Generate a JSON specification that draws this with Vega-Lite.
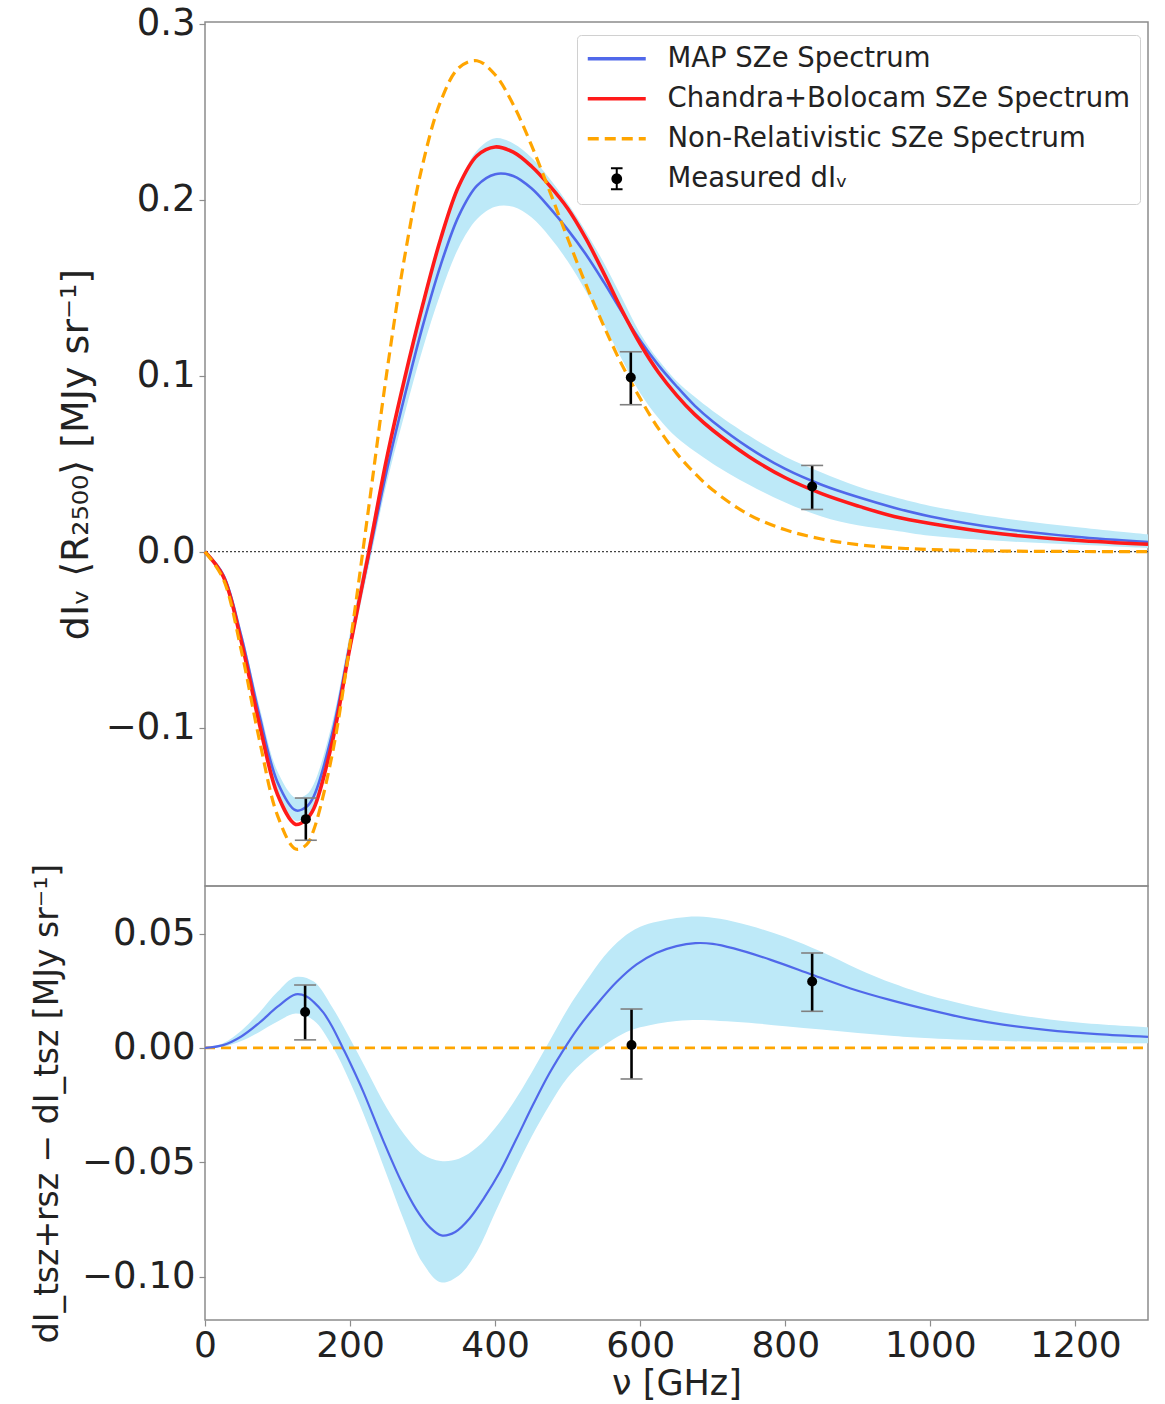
{
  "$schema": "https://vega.github.io/schema/vega-lite/v6.json",
  "background": "white",
  "padding": {"left": 30, "top": 4, "right": 17, "bottom": 0},
  "config": {
    "font": "DejaVu Sans",
    "view": {"stroke": "#8c8c8c", "strokeWidth": 1.5},
    "axis": {
      "labelFont": "DejaVu Sans", "titleFont": "DejaVu Sans",
      "labelFontSize": 37, "titleFontSize": 34, "titleFontWeight": "normal",
      "labelColor": "#222", "titleColor": "#222",
      "domain": false, "grid": false,
      "tickColor": "#8c8c8c", "tickSize": 6, "tickWidth": 1.2,
      "labelPadding": 4, "labelFlush": false, "labelOverlap": false
    }
  },
  "datasets": {
    "curves_top": [
      {"nu": 0, "v": 0, "series": "MAP SZe Spectrum"},
      {"nu": 25, "v": -0.013, "series": "MAP SZe Spectrum"},
      {"nu": 50, "v": -0.048, "series": "MAP SZe Spectrum"},
      {"nu": 75, "v": -0.093, "series": "MAP SZe Spectrum"},
      {"nu": 100, "v": -0.131, "series": "MAP SZe Spectrum"},
      {"nu": 125, "v": -0.147, "series": "MAP SZe Spectrum"},
      {"nu": 140, "v": -0.145, "series": "MAP SZe Spectrum"},
      {"nu": 150, "v": -0.139, "series": "MAP SZe Spectrum"},
      {"nu": 175, "v": -0.104, "series": "MAP SZe Spectrum"},
      {"nu": 200, "v": -0.052, "series": "MAP SZe Spectrum"},
      {"nu": 225, "v": -0.004, "series": "MAP SZe Spectrum"},
      {"nu": 250, "v": 0.045, "series": "MAP SZe Spectrum"},
      {"nu": 275, "v": 0.088, "series": "MAP SZe Spectrum"},
      {"nu": 300, "v": 0.128, "series": "MAP SZe Spectrum"},
      {"nu": 325, "v": 0.163, "series": "MAP SZe Spectrum"},
      {"nu": 350, "v": 0.191, "series": "MAP SZe Spectrum"},
      {"nu": 375, "v": 0.208, "series": "MAP SZe Spectrum"},
      {"nu": 400, "v": 0.2145, "series": "MAP SZe Spectrum"},
      {"nu": 425, "v": 0.2135, "series": "MAP SZe Spectrum"},
      {"nu": 450, "v": 0.2065, "series": "MAP SZe Spectrum"},
      {"nu": 475, "v": 0.1955, "series": "MAP SZe Spectrum"},
      {"nu": 500, "v": 0.183, "series": "MAP SZe Spectrum"},
      {"nu": 525, "v": 0.169, "series": "MAP SZe Spectrum"},
      {"nu": 550, "v": 0.153, "series": "MAP SZe Spectrum"},
      {"nu": 575, "v": 0.136, "series": "MAP SZe Spectrum"},
      {"nu": 600, "v": 0.120, "series": "MAP SZe Spectrum"},
      {"nu": 625, "v": 0.106, "series": "MAP SZe Spectrum"},
      {"nu": 650, "v": 0.094, "series": "MAP SZe Spectrum"},
      {"nu": 675, "v": 0.083, "series": "MAP SZe Spectrum"},
      {"nu": 700, "v": 0.074, "series": "MAP SZe Spectrum"},
      {"nu": 750, "v": 0.059, "series": "MAP SZe Spectrum"},
      {"nu": 800, "v": 0.047, "series": "MAP SZe Spectrum"},
      {"nu": 850, "v": 0.038, "series": "MAP SZe Spectrum"},
      {"nu": 900, "v": 0.031, "series": "MAP SZe Spectrum"},
      {"nu": 950, "v": 0.025, "series": "MAP SZe Spectrum"},
      {"nu": 1000, "v": 0.020, "series": "MAP SZe Spectrum"},
      {"nu": 1100, "v": 0.013, "series": "MAP SZe Spectrum"},
      {"nu": 1200, "v": 0.0085, "series": "MAP SZe Spectrum"},
      {"nu": 1300, "v": 0.0055, "series": "MAP SZe Spectrum"},
      {"nu": 0, "v": 0, "series": "Chandra+Bolocam SZe Spectrum"},
      {"nu": 25, "v": -0.014, "series": "Chandra+Bolocam SZe Spectrum"},
      {"nu": 50, "v": -0.051, "series": "Chandra+Bolocam SZe Spectrum"},
      {"nu": 75, "v": -0.098, "series": "Chandra+Bolocam SZe Spectrum"},
      {"nu": 100, "v": -0.138, "series": "Chandra+Bolocam SZe Spectrum"},
      {"nu": 125, "v": -0.155, "series": "Chandra+Bolocam SZe Spectrum"},
      {"nu": 140, "v": -0.152, "series": "Chandra+Bolocam SZe Spectrum"},
      {"nu": 150, "v": -0.146, "series": "Chandra+Bolocam SZe Spectrum"},
      {"nu": 175, "v": -0.109, "series": "Chandra+Bolocam SZe Spectrum"},
      {"nu": 200, "v": -0.054, "series": "Chandra+Bolocam SZe Spectrum"},
      {"nu": 225, "v": -0.002, "series": "Chandra+Bolocam SZe Spectrum"},
      {"nu": 250, "v": 0.052, "series": "Chandra+Bolocam SZe Spectrum"},
      {"nu": 275, "v": 0.098, "series": "Chandra+Bolocam SZe Spectrum"},
      {"nu": 300, "v": 0.140, "series": "Chandra+Bolocam SZe Spectrum"},
      {"nu": 325, "v": 0.178, "series": "Chandra+Bolocam SZe Spectrum"},
      {"nu": 350, "v": 0.208, "series": "Chandra+Bolocam SZe Spectrum"},
      {"nu": 375, "v": 0.225, "series": "Chandra+Bolocam SZe Spectrum"},
      {"nu": 400, "v": 0.230, "series": "Chandra+Bolocam SZe Spectrum"},
      {"nu": 425, "v": 0.227, "series": "Chandra+Bolocam SZe Spectrum"},
      {"nu": 450, "v": 0.219, "series": "Chandra+Bolocam SZe Spectrum"},
      {"nu": 475, "v": 0.208, "series": "Chandra+Bolocam SZe Spectrum"},
      {"nu": 500, "v": 0.195, "series": "Chandra+Bolocam SZe Spectrum"},
      {"nu": 525, "v": 0.178, "series": "Chandra+Bolocam SZe Spectrum"},
      {"nu": 550, "v": 0.158, "series": "Chandra+Bolocam SZe Spectrum"},
      {"nu": 575, "v": 0.137, "series": "Chandra+Bolocam SZe Spectrum"},
      {"nu": 600, "v": 0.118, "series": "Chandra+Bolocam SZe Spectrum"},
      {"nu": 625, "v": 0.102, "series": "Chandra+Bolocam SZe Spectrum"},
      {"nu": 650, "v": 0.089, "series": "Chandra+Bolocam SZe Spectrum"},
      {"nu": 675, "v": 0.078, "series": "Chandra+Bolocam SZe Spectrum"},
      {"nu": 700, "v": 0.069, "series": "Chandra+Bolocam SZe Spectrum"},
      {"nu": 750, "v": 0.054, "series": "Chandra+Bolocam SZe Spectrum"},
      {"nu": 800, "v": 0.042, "series": "Chandra+Bolocam SZe Spectrum"},
      {"nu": 850, "v": 0.033, "series": "Chandra+Bolocam SZe Spectrum"},
      {"nu": 900, "v": 0.026, "series": "Chandra+Bolocam SZe Spectrum"},
      {"nu": 950, "v": 0.020, "series": "Chandra+Bolocam SZe Spectrum"},
      {"nu": 1000, "v": 0.016, "series": "Chandra+Bolocam SZe Spectrum"},
      {"nu": 1100, "v": 0.010, "series": "Chandra+Bolocam SZe Spectrum"},
      {"nu": 1200, "v": 0.0065, "series": "Chandra+Bolocam SZe Spectrum"},
      {"nu": 1300, "v": 0.0042, "series": "Chandra+Bolocam SZe Spectrum"},
      {"nu": 0, "v": 0, "series": "Non-Relativistic SZe Spectrum"},
      {"nu": 25, "v": -0.0154, "series": "Non-Relativistic SZe Spectrum"},
      {"nu": 50, "v": -0.0561, "series": "Non-Relativistic SZe Spectrum"},
      {"nu": 75, "v": -0.107, "series": "Non-Relativistic SZe Spectrum"},
      {"nu": 100, "v": -0.150, "series": "Non-Relativistic SZe Spectrum"},
      {"nu": 125, "v": -0.169, "series": "Non-Relativistic SZe Spectrum"},
      {"nu": 140, "v": -0.1665, "series": "Non-Relativistic SZe Spectrum"},
      {"nu": 150, "v": -0.158, "series": "Non-Relativistic SZe Spectrum"},
      {"nu": 175, "v": -0.116, "series": "Non-Relativistic SZe Spectrum"},
      {"nu": 200, "v": -0.052, "series": "Non-Relativistic SZe Spectrum"},
      {"nu": 225, "v": 0.023, "series": "Non-Relativistic SZe Spectrum"},
      {"nu": 250, "v": 0.100, "series": "Non-Relativistic SZe Spectrum"},
      {"nu": 275, "v": 0.167, "series": "Non-Relativistic SZe Spectrum"},
      {"nu": 300, "v": 0.220, "series": "Non-Relativistic SZe Spectrum"},
      {"nu": 325, "v": 0.256, "series": "Non-Relativistic SZe Spectrum"},
      {"nu": 350, "v": 0.275, "series": "Non-Relativistic SZe Spectrum"},
      {"nu": 375, "v": 0.279, "series": "Non-Relativistic SZe Spectrum"},
      {"nu": 400, "v": 0.271, "series": "Non-Relativistic SZe Spectrum"},
      {"nu": 425, "v": 0.254, "series": "Non-Relativistic SZe Spectrum"},
      {"nu": 450, "v": 0.231, "series": "Non-Relativistic SZe Spectrum"},
      {"nu": 475, "v": 0.205, "series": "Non-Relativistic SZe Spectrum"},
      {"nu": 500, "v": 0.178, "series": "Non-Relativistic SZe Spectrum"},
      {"nu": 525, "v": 0.152, "series": "Non-Relativistic SZe Spectrum"},
      {"nu": 550, "v": 0.128, "series": "Non-Relativistic SZe Spectrum"},
      {"nu": 575, "v": 0.106, "series": "Non-Relativistic SZe Spectrum"},
      {"nu": 600, "v": 0.087, "series": "Non-Relativistic SZe Spectrum"},
      {"nu": 625, "v": 0.070, "series": "Non-Relativistic SZe Spectrum"},
      {"nu": 650, "v": 0.056, "series": "Non-Relativistic SZe Spectrum"},
      {"nu": 675, "v": 0.0446, "series": "Non-Relativistic SZe Spectrum"},
      {"nu": 700, "v": 0.035, "series": "Non-Relativistic SZe Spectrum"},
      {"nu": 750, "v": 0.021, "series": "Non-Relativistic SZe Spectrum"},
      {"nu": 800, "v": 0.0124, "series": "Non-Relativistic SZe Spectrum"},
      {"nu": 850, "v": 0.0072, "series": "Non-Relativistic SZe Spectrum"},
      {"nu": 900, "v": 0.004, "series": "Non-Relativistic SZe Spectrum"},
      {"nu": 950, "v": 0.0022, "series": "Non-Relativistic SZe Spectrum"},
      {"nu": 1000, "v": 0.0012, "series": "Non-Relativistic SZe Spectrum"},
      {"nu": 1100, "v": 0.00035, "series": "Non-Relativistic SZe Spectrum"},
      {"nu": 1200, "v": 0.0001, "series": "Non-Relativistic SZe Spectrum"},
      {"nu": 1300, "v": 0, "series": "Non-Relativistic SZe Spectrum"}
    ],
    "band_top": [
      {"nu": 0, "lo": 0, "hi": 0},
      {"nu": 25, "lo": -0.0145, "hi": -0.0115},
      {"nu": 50, "lo": -0.051, "hi": -0.045},
      {"nu": 75, "lo": -0.098, "hi": -0.088},
      {"nu": 100, "lo": -0.137, "hi": -0.125},
      {"nu": 125, "lo": -0.153, "hi": -0.140},
      {"nu": 140, "lo": -0.151, "hi": -0.138},
      {"nu": 150, "lo": -0.145, "hi": -0.132},
      {"nu": 175, "lo": -0.110, "hi": -0.098},
      {"nu": 200, "lo": -0.058, "hi": -0.046},
      {"nu": 225, "lo": -0.010, "hi": 0.004},
      {"nu": 250, "lo": 0.038, "hi": 0.055},
      {"nu": 275, "lo": 0.078, "hi": 0.100},
      {"nu": 300, "lo": 0.115, "hi": 0.143},
      {"nu": 325, "lo": 0.147, "hi": 0.180},
      {"nu": 350, "lo": 0.173, "hi": 0.209},
      {"nu": 375, "lo": 0.189, "hi": 0.228},
      {"nu": 400, "lo": 0.196, "hi": 0.235},
      {"nu": 425, "lo": 0.196, "hi": 0.232},
      {"nu": 450, "lo": 0.190, "hi": 0.224},
      {"nu": 475, "lo": 0.179, "hi": 0.212},
      {"nu": 500, "lo": 0.165, "hi": 0.198},
      {"nu": 525, "lo": 0.148, "hi": 0.182},
      {"nu": 550, "lo": 0.129, "hi": 0.164},
      {"nu": 575, "lo": 0.109, "hi": 0.144},
      {"nu": 600, "lo": 0.090, "hi": 0.124},
      {"nu": 625, "lo": 0.076, "hi": 0.109},
      {"nu": 650, "lo": 0.065, "hi": 0.097},
      {"nu": 675, "lo": 0.057, "hi": 0.088},
      {"nu": 700, "lo": 0.050, "hi": 0.080},
      {"nu": 750, "lo": 0.038, "hi": 0.066},
      {"nu": 800, "lo": 0.028, "hi": 0.054},
      {"nu": 850, "lo": 0.020, "hi": 0.045},
      {"nu": 900, "lo": 0.015, "hi": 0.037},
      {"nu": 950, "lo": 0.012, "hi": 0.031},
      {"nu": 1000, "lo": 0.009, "hi": 0.026},
      {"nu": 1100, "lo": 0.006, "hi": 0.019},
      {"nu": 1200, "lo": 0.004, "hi": 0.014},
      {"nu": 1300, "lo": 0.002, "hi": 0.0098}
    ],
    "meas_top": [
      {"nu": 139, "v": -0.152, "lo": -0.164, "hi": -0.140, "series": "Measured dIᵥ"},
      {"nu": 587, "v": 0.099, "lo": 0.0835, "hi": 0.1136, "series": "Measured dIᵥ"},
      {"nu": 837, "v": 0.037, "lo": 0.024, "hi": 0.049, "series": "Measured dIᵥ"}
    ],
    "zero_top": [{"v": 0}],
    "curve_bot": [
      {"nu": 0, "v": 0}, {"nu": 25, "v": 0.0012}, {"nu": 50, "v": 0.005}, {"nu": 75, "v": 0.011},
      {"nu": 100, "v": 0.018}, {"nu": 125, "v": 0.0234}, {"nu": 140, "v": 0.0225}, {"nu": 150, "v": 0.0200},
      {"nu": 163, "v": 0.0155}, {"nu": 175, "v": 0.0095}, {"nu": 190, "v": 0.0}, {"nu": 200, "v": -0.0065},
      {"nu": 218, "v": -0.019}, {"nu": 245, "v": -0.040}, {"nu": 270, "v": -0.058}, {"nu": 291, "v": -0.0705},
      {"nu": 310, "v": -0.0785}, {"nu": 326, "v": -0.082}, {"nu": 345, "v": -0.0805}, {"nu": 365, "v": -0.0745},
      {"nu": 385, "v": -0.0655}, {"nu": 406, "v": -0.0545}, {"nu": 429, "v": -0.040}, {"nu": 452, "v": -0.025},
      {"nu": 475, "v": -0.011}, {"nu": 500, "v": 0.002}, {"nu": 515, "v": 0.009}, {"nu": 540, "v": 0.019},
      {"nu": 568, "v": 0.029}, {"nu": 595, "v": 0.0365}, {"nu": 622, "v": 0.0415}, {"nu": 650, "v": 0.0445},
      {"nu": 676, "v": 0.0458}, {"nu": 700, "v": 0.0455}, {"nu": 729, "v": 0.0435}, {"nu": 780, "v": 0.0385},
      {"nu": 837, "v": 0.032}, {"nu": 890, "v": 0.026}, {"nu": 944, "v": 0.021}, {"nu": 1000, "v": 0.0165},
      {"nu": 1052, "v": 0.0128}, {"nu": 1100, "v": 0.0102}, {"nu": 1159, "v": 0.0079}, {"nu": 1230, "v": 0.006},
      {"nu": 1300, "v": 0.0048}
    ],
    "band_bot": [
      {"nu": 0, "lo": 0, "hi": 0},
      {"nu": 25, "lo": 0.0005, "hi": 0.002},
      {"nu": 50, "lo": 0.003, "hi": 0.0075},
      {"nu": 75, "lo": 0.007, "hi": 0.0155},
      {"nu": 100, "lo": 0.0115, "hi": 0.0245},
      {"nu": 125, "lo": 0.015, "hi": 0.031},
      {"nu": 150, "lo": 0.012, "hi": 0.029},
      {"nu": 175, "lo": 0.001, "hi": 0.018},
      {"nu": 200, "lo": -0.015, "hi": 0.004},
      {"nu": 225, "lo": -0.034, "hi": -0.011},
      {"nu": 250, "lo": -0.055, "hi": -0.026},
      {"nu": 275, "lo": -0.076, "hi": -0.038},
      {"nu": 300, "lo": -0.094, "hi": -0.0465},
      {"nu": 325, "lo": -0.1025, "hi": -0.0495},
      {"nu": 350, "lo": -0.0995, "hi": -0.0485},
      {"nu": 375, "lo": -0.089, "hi": -0.0435},
      {"nu": 400, "lo": -0.072, "hi": -0.035},
      {"nu": 425, "lo": -0.055, "hi": -0.024},
      {"nu": 450, "lo": -0.039, "hi": -0.011},
      {"nu": 475, "lo": -0.025, "hi": 0.003},
      {"nu": 500, "lo": -0.013, "hi": 0.017},
      {"nu": 525, "lo": -0.005, "hi": 0.029},
      {"nu": 550, "lo": 0.001, "hi": 0.040},
      {"nu": 575, "lo": 0.006, "hi": 0.048},
      {"nu": 600, "lo": 0.009, "hi": 0.053},
      {"nu": 650, "lo": 0.0118, "hi": 0.0568},
      {"nu": 680, "lo": 0.0122, "hi": 0.0575},
      {"nu": 710, "lo": 0.0118, "hi": 0.0565},
      {"nu": 750, "lo": 0.011, "hi": 0.0535},
      {"nu": 800, "lo": 0.0095, "hi": 0.0485},
      {"nu": 850, "lo": 0.008, "hi": 0.042},
      {"nu": 900, "lo": 0.0065, "hi": 0.0345},
      {"nu": 950, "lo": 0.0052, "hi": 0.028},
      {"nu": 1000, "lo": 0.0042, "hi": 0.0228},
      {"nu": 1100, "lo": 0.003, "hi": 0.0155},
      {"nu": 1200, "lo": 0.0024, "hi": 0.0112},
      {"nu": 1300, "lo": 0.002, "hi": 0.009}
    ],
    "meas_bot": [
      {"nu": 138, "v": 0.0157, "lo": 0.0035, "hi": 0.0275},
      {"nu": 588, "v": 0.0013, "lo": -0.0136, "hi": 0.017},
      {"nu": 837, "v": 0.029, "lo": 0.016, "hi": 0.0415}
    ],
    "zero_bot": [{"nu": 0, "v": 0}, {"nu": 1300, "v": 0}]
  },
  "spacing": 0,
  "bounds": "flush",
  "resolve": {"scale": {"color": "independent", "x": "independent"}, "legend": {"color": "independent"}},
  "vconcat": [
    {
      "width": 943,
      "height": 864,
      "layer": [
        {
          "data": {"name": "band_top"},
          "mark": {"type": "area", "color": "#bde9f8", "opacity": 1, "interpolate": "catmull-rom"},
          "encoding": {
            "x": {"field": "nu", "type": "quantitative", "scale": {"domain": [0, 1300], "nice": false, "zero": false}, "axis": null},
            "y": {"field": "lo", "type": "quantitative", "scale": {"domain": [-0.19, 0.301], "nice": false, "zero": false},
                  "axis": {"values": [-0.1, 0, 0.1, 0.2, 0.3], "format": ".1f", "title": "dIᵥ ⟨R₂₅₀₀⟩ [MJy sr⁻¹]", "titleFontSize": 38, "titlePadding": 10}},
            "y2": {"field": "hi"}
          }
        },
        {
          "data": {"name": "zero_top"},
          "mark": {"type": "rule", "color": "#444", "strokeWidth": 1.2, "strokeDash": [2, 2]},
          "encoding": {"y": {"field": "v", "type": "quantitative"}}
        },
        {
          "data": {"name": "curves_top"},
          "transform": [{"filter": "datum.series === 'MAP SZe Spectrum'"}],
          "mark": {"type": "line", "strokeWidth": 2.6, "interpolate": "catmull-rom"},
          "encoding": {
            "x": {"field": "nu", "type": "quantitative"},
            "y": {"field": "v", "type": "quantitative"},
            "color": {
              "field": "series", "type": "nominal",
              "scale": {"domain": ["MAP SZe Spectrum", "Chandra+Bolocam SZe Spectrum", "Non-Relativistic SZe Spectrum", "Measured dIᵥ"],
                        "range": ["#5068ea", "#ff1a1a", "#ffa500", "#000000"]},
              "legend": {
                "title": null, "orient": "none", "legendX": 372, "legendY": 13,
                "labelFontSize": 27.5, "labelFont": "DejaVu Sans", "labelColor": "#222", "labelLimit": 700,
                "symbolType": "stroke", "symbolSize": 3364, "symbolStrokeWidth": 3.5,
                "symbolOffset": 16, "labelOffset": 37, "padding": 10, "rowPadding": 11,
                "strokeColor": "#d0d0d0", "fillColor": "rgba(255,255,255,0.85)", "cornerRadius": 4,
                "encode": {
                  "symbols": {
                    "update": {
                      "shape": {"signal": "datum.value === 'Measured dIᵥ' ? 'M0,-0.36L0,0.36M-0.2,-0.36L0.2,-0.36M-0.2,0.36L0.2,0.36M-0.15,0A0.15,0.15 0 1,0 0.15,0A0.15,0.15 0 1,0 -0.15,0' : 'stroke'"},
                      "fill": {"signal": "datum.value === 'Measured dIᵥ' ? '#000000' : 'transparent'"},
                      "strokeDash": {"signal": "datum.value === 'Non-Relativistic SZe Spectrum' ? [11, 6] : [1, 0]"},
                      "strokeWidth": {"signal": "datum.value === 'Measured dIᵥ' ? 2 : 3.5"},
                      "opacity": {"value": 1}
                    }
                  }
                }
              }
            }
          }
        },
        {
          "data": {"name": "curves_top"},
          "transform": [{"filter": "datum.series === 'Chandra+Bolocam SZe Spectrum'"}],
          "mark": {"type": "line", "strokeWidth": 3.6, "interpolate": "catmull-rom"},
          "encoding": {
            "x": {"field": "nu", "type": "quantitative"},
            "y": {"field": "v", "type": "quantitative"},
            "color": {"field": "series", "type": "nominal"}
          }
        },
        {
          "data": {"name": "curves_top"},
          "transform": [{"filter": "datum.series === 'Non-Relativistic SZe Spectrum'"}],
          "mark": {"type": "line", "strokeWidth": 3.2, "strokeDash": [11, 6], "interpolate": "catmull-rom"},
          "encoding": {
            "x": {"field": "nu", "type": "quantitative"},
            "y": {"field": "v", "type": "quantitative"},
            "color": {"field": "series", "type": "nominal"}
          }
        },
        {
          "data": {"name": "meas_top"},
          "mark": {"type": "rule", "color": "#000", "strokeWidth": 2.6},
          "encoding": {
            "x": {"field": "nu", "type": "quantitative"},
            "y": {"field": "lo", "type": "quantitative"},
            "y2": {"field": "hi"}
          }
        },
        {
          "data": {"name": "meas_top"},
          "mark": {"type": "tick", "orient": "horizontal", "color": "#808080", "size": 22, "thickness": 1.6, "opacity": 1},
          "encoding": {
            "x": {"field": "nu", "type": "quantitative"},
            "y": {"field": "lo", "type": "quantitative"}
          }
        },
        {
          "data": {"name": "meas_top"},
          "mark": {"type": "tick", "orient": "horizontal", "color": "#808080", "size": 22, "thickness": 1.6, "opacity": 1},
          "encoding": {
            "x": {"field": "nu", "type": "quantitative"},
            "y": {"field": "hi", "type": "quantitative"}
          }
        },
        {
          "data": {"name": "meas_top"},
          "mark": {"type": "point", "filled": true, "size": 100, "opacity": 1},
          "encoding": {
            "x": {"field": "nu", "type": "quantitative"},
            "y": {"field": "v", "type": "quantitative"},
            "color": {"field": "series", "type": "nominal"}
          }
        }
      ]
    },
    {
      "width": 943,
      "height": 434,
      "layer": [
        {
          "data": {"name": "band_bot"},
          "mark": {"type": "area", "color": "#bde9f8", "opacity": 1, "interpolate": "catmull-rom"},
          "encoding": {
            "x": {"field": "nu", "type": "quantitative", "scale": {"domain": [0, 1300], "nice": false, "zero": false},
                  "axis": {"values": [0, 200, 400, 600, 800, 1000, 1200], "format": "d", "title": "ν [GHz]", "titleFontSize": 35, "titlePadding": 3, "labelPadding": 2, "labelFontSize": 36}},
            "y": {"field": "lo", "type": "quantitative", "scale": {"domain": [-0.119, 0.0708], "nice": false, "zero": false},
                  "axis": {"values": [-0.1, -0.05, 0, 0.05], "format": ".2f", "title": "dI_tsz+rsz − dI_tsz [MJy sr⁻¹]", "titleFontSize": 33, "titlePadding": 17}},
            "y2": {"field": "hi"}
          }
        },
        {
          "data": {"name": "zero_bot"},
          "mark": {"type": "line", "color": "#ffa500", "strokeWidth": 2.6, "strokeDash": [10, 6]},
          "encoding": {
            "x": {"field": "nu", "type": "quantitative"},
            "y": {"field": "v", "type": "quantitative"}
          }
        },
        {
          "data": {"name": "curve_bot"},
          "mark": {"type": "line", "color": "#5068ea", "strokeWidth": 2.2, "interpolate": "catmull-rom"},
          "encoding": {
            "x": {"field": "nu", "type": "quantitative"},
            "y": {"field": "v", "type": "quantitative"}
          }
        },
        {
          "data": {"name": "meas_bot"},
          "mark": {"type": "rule", "color": "#000", "strokeWidth": 2.6},
          "encoding": {
            "x": {"field": "nu", "type": "quantitative"},
            "y": {"field": "lo", "type": "quantitative"},
            "y2": {"field": "hi"}
          }
        },
        {
          "data": {"name": "meas_bot"},
          "mark": {"type": "tick", "orient": "horizontal", "color": "#808080", "size": 22, "thickness": 1.6, "opacity": 1},
          "encoding": {
            "x": {"field": "nu", "type": "quantitative"},
            "y": {"field": "lo", "type": "quantitative"}
          }
        },
        {
          "data": {"name": "meas_bot"},
          "mark": {"type": "tick", "orient": "horizontal", "color": "#808080", "size": 22, "thickness": 1.6, "opacity": 1},
          "encoding": {
            "x": {"field": "nu", "type": "quantitative"},
            "y": {"field": "hi", "type": "quantitative"}
          }
        },
        {
          "data": {"name": "meas_bot"},
          "mark": {"type": "point", "filled": true, "size": 100, "opacity": 1, "color": "#000"},
          "encoding": {
            "x": {"field": "nu", "type": "quantitative"},
            "y": {"field": "v", "type": "quantitative"}
          }
        }
      ]
    }
  ]
}
